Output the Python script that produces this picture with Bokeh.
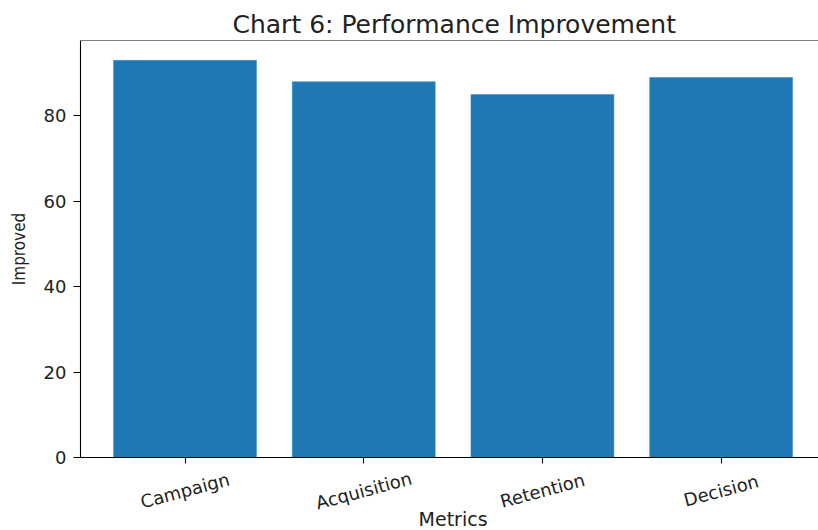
from bokeh.plotting import figure
from bokeh.layouts import column
from bokeh.models import Range1d, FixedTicker, Span, ColumnDataSource
from bokeh.core.properties import value
from bokeh.embed import file_html
from bokeh.resources import INLINE

categories = ["Campaign", "Acquisition", "Retention", "Decision"]
improved = [93, 88, 85, 89]
y_ticks = [0, 20, 40, 60, 80]
x_label = "Metrics"
y_label = "Improved"

positions = list(range(len(categories)))
y_top = max(improved) * 1.05
x_range = Range1d(-0.585, 3.545)
TXT = "#222222"

# ---- main chart -------------------------------------------------------
p = figure(width=818, height=467, output_backend="svg", toolbar_location=None,
           x_range=x_range, y_range=Range1d(0, y_top),
           min_border_left=80, min_border_right=0, min_border_top=40,
           min_border_bottom=10)

src = ColumnDataSource(dict(x=positions, top=improved, name=categories))
p.vbar(x="x", top="top", width=0.8, source=src, color="#1f77b4",
       line_color="#3a8cc4", line_width=0.5)

p.title.text = "Chart 6: Performance Improvement"
p.title.align = "left"
p.title.offset = 152
p.title.text_font = "DejaVu Sans"
p.title.text_font_size = "25px"
p.title.text_font_style = "normal"
p.title.text_color = TXT
p.title.standoff = 4

p.outline_line_color = None
p.grid.visible = False
p.add_layout(Span(location=y_top, dimension="width", line_color="black", line_width=1.1))

p.xaxis.ticker = FixedTicker(ticks=positions)
p.xaxis.major_label_text_color = None
p.xaxis.major_label_text_font_size = "10px"
p.xaxis.major_label_standoff = 0
p.yaxis.ticker = FixedTicker(ticks=y_ticks)
p.yaxis.axis_label = y_label

for ax in (p.xaxis, p.yaxis):
    ax.axis_line_color = "black"
    ax.axis_line_width = 1.1
    ax.major_tick_line_color = "black"
    ax.major_tick_line_width = 1.1
    ax.major_tick_out = 6
    ax.major_tick_in = 0
    ax.minor_tick_line_color = None

p.yaxis.major_tick_out = 7
p.yaxis.major_label_text_font = "DejaVu Sans"
p.yaxis.major_label_text_font_size = "18px"
p.yaxis.major_label_text_color = TXT
p.yaxis.major_label_standoff = 7
p.yaxis.axis_label_text_font = "'DejaVu Sans Condensed', 'DejaVu Sans'"
p.yaxis.axis_label_text_font_size = "17px"
p.yaxis.axis_label_text_font_style = "normal"
p.yaxis.axis_label_text_color = TXT
p.yaxis.axis_label_standoff = 12

# ---- strip under the axis: category labels and x-axis title ---------
q = figure(width=818, height=63, output_backend="svg", toolbar_location=None,
           x_range=x_range, y_range=Range1d(-63, 0),
           x_axis_location=None, y_axis_location=None,
           min_border_left=80, min_border_right=0, min_border_top=0,
           min_border_bottom=0)
q.outline_line_color = None
q.grid.visible = False

q.text(x="x", y=-23, text="name", source=src, angle=15, angle_units="deg",
       text_align="center", text_baseline="middle",
       text_font=value("DejaVu Sans"), text_font_size="18px", text_color=TXT)

q.text(x=[(positions[0] + positions[-1]) / 2], y=-51, text=[x_label],
       text_align="center", text_baseline="middle",
       text_font=value("DejaVu Sans"), text_font_size="19px", text_color=TXT)

layout = column(p, q, spacing=0)
open("out.html", "w").write(file_html(layout, INLINE))
